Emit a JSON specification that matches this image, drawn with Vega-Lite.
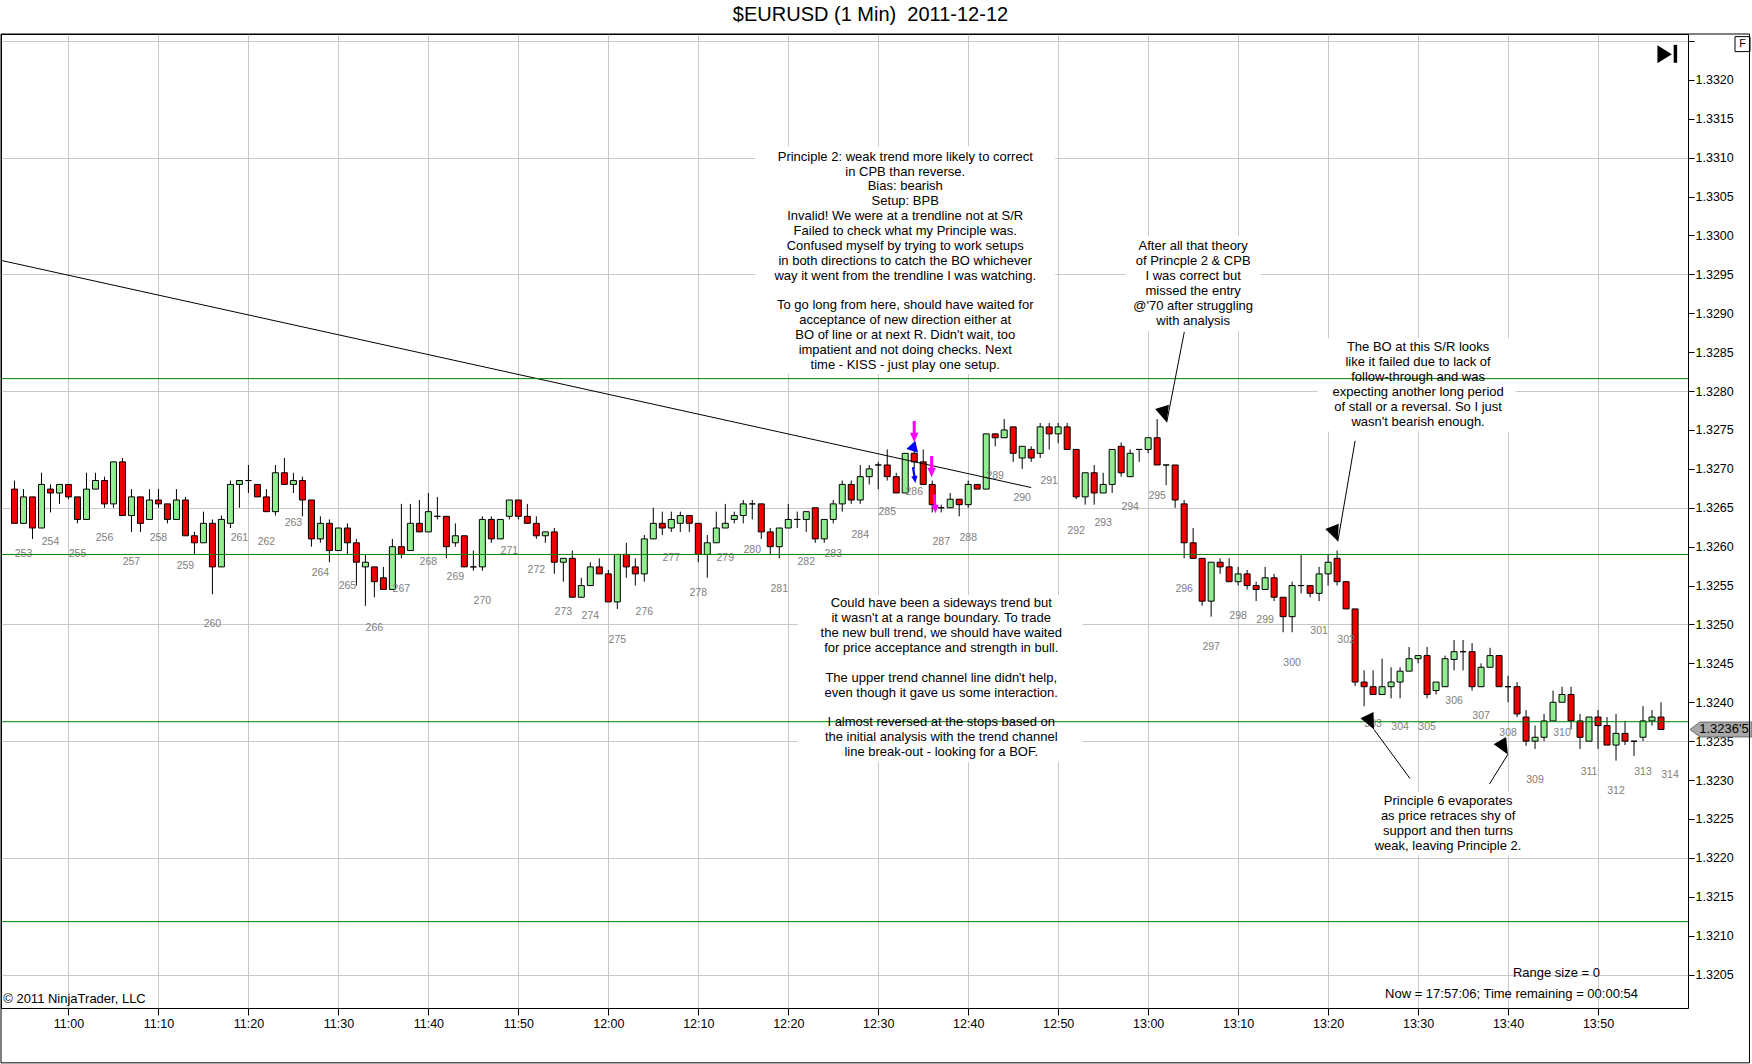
{
  "$schema": "https://vega.github.io/schema/vega-lite/v6.json",
  "description": "$EURUSD 1 minute candles, 2011-12-12, with trading notes",
  "width": 1687,
  "height": 974,
  "autosize": "none",
  "padding": {"left": 1, "top": 34, "right": 64, "bottom": 56},
  "background": "white",
  "title": {
    "text": "$EURUSD (1 Min)\u00a0 2011-12-12",
    "fontSize": 20,
    "fontWeight": "normal",
    "color": "black",
    "anchor": "middle",
    "frame": "group",
    "baseline": "alphabetic",
    "offset": -7,
    "dx": 26
  },
  "config": {
    "font": "Liberation Sans",
    "view": {"stroke": "black", "strokeWidth": 1}
  },
  "datasets": {
    "bars": [
      {"t": "2011-12-12T10:54", "o": 1.32674, "h": 1.32685, "l": 1.32630, "c": 1.32630},
      {"t": "2011-12-12T10:55", "o": 1.32630, "h": 1.32674, "l": 1.32630, "c": 1.32664},
      {"t": "2011-12-12T10:56", "o": 1.32664, "h": 1.32664, "l": 1.32610, "c": 1.32624},
      {"t": "2011-12-12T10:57", "o": 1.32624, "h": 1.32695, "l": 1.32624, "c": 1.32680},
      {"t": "2011-12-12T10:58", "o": 1.32674, "h": 1.32680, "l": 1.32644, "c": 1.32669},
      {"t": "2011-12-12T10:59", "o": 1.32669, "h": 1.32680, "l": 1.32655, "c": 1.32680},
      {"t": "2011-12-12T11:00", "o": 1.32680, "h": 1.32680, "l": 1.32661, "c": 1.32664},
      {"t": "2011-12-12T11:01", "o": 1.32664, "h": 1.32664, "l": 1.32630, "c": 1.32635},
      {"t": "2011-12-12T11:02", "o": 1.32635, "h": 1.32695, "l": 1.32635, "c": 1.32674},
      {"t": "2011-12-12T11:03", "o": 1.32674, "h": 1.32695, "l": 1.32674, "c": 1.32685},
      {"t": "2011-12-12T11:04", "o": 1.32685, "h": 1.32690, "l": 1.32650, "c": 1.32655},
      {"t": "2011-12-12T11:05", "o": 1.32655, "h": 1.32709, "l": 1.32650, "c": 1.32709},
      {"t": "2011-12-12T11:06", "o": 1.32709, "h": 1.32714, "l": 1.32640, "c": 1.32640},
      {"t": "2011-12-12T11:07", "o": 1.32640, "h": 1.32674, "l": 1.32619, "c": 1.32664},
      {"t": "2011-12-12T11:08", "o": 1.32664, "h": 1.32664, "l": 1.32619, "c": 1.32630},
      {"t": "2011-12-12T11:09", "o": 1.32635, "h": 1.32674, "l": 1.32635, "c": 1.32660},
      {"t": "2011-12-12T11:10", "o": 1.32660, "h": 1.32674, "l": 1.32650, "c": 1.32655},
      {"t": "2011-12-12T11:11", "o": 1.32655, "h": 1.32655, "l": 1.32630, "c": 1.32635},
      {"t": "2011-12-12T11:12", "o": 1.32635, "h": 1.32674, "l": 1.32635, "c": 1.32660},
      {"t": "2011-12-12T11:13", "o": 1.32660, "h": 1.32664, "l": 1.32614, "c": 1.32614},
      {"t": "2011-12-12T11:14", "o": 1.32614, "h": 1.32619, "l": 1.32590, "c": 1.32605},
      {"t": "2011-12-12T11:15", "o": 1.32605, "h": 1.32645, "l": 1.32605, "c": 1.32630},
      {"t": "2011-12-12T11:16", "o": 1.32630, "h": 1.32635, "l": 1.32539, "c": 1.32574},
      {"t": "2011-12-12T11:17", "o": 1.32574, "h": 1.32640, "l": 1.32574, "c": 1.32635},
      {"t": "2011-12-12T11:18", "o": 1.32630, "h": 1.32685, "l": 1.32624, "c": 1.32680},
      {"t": "2011-12-12T11:19", "o": 1.32680, "h": 1.32685, "l": 1.32650, "c": 1.32685},
      {"t": "2011-12-12T11:20", "o": 1.32685, "h": 1.32705, "l": 1.32669, "c": 1.32685},
      {"t": "2011-12-12T11:21", "o": 1.32680, "h": 1.32680, "l": 1.32664, "c": 1.32664},
      {"t": "2011-12-12T11:22", "o": 1.32664, "h": 1.32674, "l": 1.32645, "c": 1.32645},
      {"t": "2011-12-12T11:23", "o": 1.32645, "h": 1.32705, "l": 1.32640, "c": 1.32695},
      {"t": "2011-12-12T11:24", "o": 1.32695, "h": 1.32714, "l": 1.32680, "c": 1.32680},
      {"t": "2011-12-12T11:25", "o": 1.32680, "h": 1.32695, "l": 1.32669, "c": 1.32685},
      {"t": "2011-12-12T11:26", "o": 1.32685, "h": 1.32690, "l": 1.32639, "c": 1.32660},
      {"t": "2011-12-12T11:27", "o": 1.32660, "h": 1.32660, "l": 1.32600, "c": 1.32610},
      {"t": "2011-12-12T11:28", "o": 1.32610, "h": 1.32639, "l": 1.32605, "c": 1.32630},
      {"t": "2011-12-12T11:29", "o": 1.32630, "h": 1.32635, "l": 1.32580, "c": 1.32595},
      {"t": "2011-12-12T11:30", "o": 1.32595, "h": 1.32624, "l": 1.32595, "c": 1.32624},
      {"t": "2011-12-12T11:31", "o": 1.32624, "h": 1.32630, "l": 1.32590, "c": 1.32605},
      {"t": "2011-12-12T11:32", "o": 1.32605, "h": 1.32610, "l": 1.32550, "c": 1.32580},
      {"t": "2011-12-12T11:33", "o": 1.32574, "h": 1.32590, "l": 1.32524, "c": 1.32580},
      {"t": "2011-12-12T11:34", "o": 1.32574, "h": 1.32574, "l": 1.32535, "c": 1.32555},
      {"t": "2011-12-12T11:35", "o": 1.32560, "h": 1.32574, "l": 1.32545, "c": 1.32545},
      {"t": "2011-12-12T11:36", "o": 1.32545, "h": 1.32610, "l": 1.32545, "c": 1.32600},
      {"t": "2011-12-12T11:37", "o": 1.32600, "h": 1.32655, "l": 1.32585, "c": 1.32590},
      {"t": "2011-12-12T11:38", "o": 1.32595, "h": 1.32655, "l": 1.32595, "c": 1.32630},
      {"t": "2011-12-12T11:39", "o": 1.32630, "h": 1.32660, "l": 1.32619, "c": 1.32619},
      {"t": "2011-12-12T11:40", "o": 1.32619, "h": 1.32669, "l": 1.32619, "c": 1.32645},
      {"t": "2011-12-12T11:41", "o": 1.32639, "h": 1.32664, "l": 1.32635, "c": 1.32639},
      {"t": "2011-12-12T11:42", "o": 1.32639, "h": 1.32639, "l": 1.32585, "c": 1.32600},
      {"t": "2011-12-12T11:43", "o": 1.32605, "h": 1.32630, "l": 1.32600, "c": 1.32614},
      {"t": "2011-12-12T11:44", "o": 1.32614, "h": 1.32614, "l": 1.32574, "c": 1.32574},
      {"t": "2011-12-12T11:45", "o": 1.32574, "h": 1.32595, "l": 1.32569, "c": 1.32574},
      {"t": "2011-12-12T11:46", "o": 1.32574, "h": 1.32639, "l": 1.32569, "c": 1.32635},
      {"t": "2011-12-12T11:47", "o": 1.32635, "h": 1.32639, "l": 1.32605, "c": 1.32610},
      {"t": "2011-12-12T11:48", "o": 1.32610, "h": 1.32635, "l": 1.32610, "c": 1.32635},
      {"t": "2011-12-12T11:49", "o": 1.32639, "h": 1.32660, "l": 1.32635, "c": 1.32660},
      {"t": "2011-12-12T11:50", "o": 1.32660, "h": 1.32660, "l": 1.32635, "c": 1.32639},
      {"t": "2011-12-12T11:51", "o": 1.32639, "h": 1.32655, "l": 1.32630, "c": 1.32630},
      {"t": "2011-12-12T11:52", "o": 1.32630, "h": 1.32639, "l": 1.32610, "c": 1.32614},
      {"t": "2011-12-12T11:53", "o": 1.32614, "h": 1.32619, "l": 1.32605, "c": 1.32619},
      {"t": "2011-12-12T11:54", "o": 1.32619, "h": 1.32624, "l": 1.32565, "c": 1.32580},
      {"t": "2011-12-12T11:55", "o": 1.32580, "h": 1.32585, "l": 1.32555, "c": 1.32585},
      {"t": "2011-12-12T11:56", "o": 1.32585, "h": 1.32595, "l": 1.32535, "c": 1.32535},
      {"t": "2011-12-12T11:57", "o": 1.32535, "h": 1.32560, "l": 1.32535, "c": 1.32550},
      {"t": "2011-12-12T11:58", "o": 1.32550, "h": 1.32580, "l": 1.32550, "c": 1.32574},
      {"t": "2011-12-12T11:59", "o": 1.32574, "h": 1.32585, "l": 1.32565, "c": 1.32565},
      {"t": "2011-12-12T12:00", "o": 1.32565, "h": 1.32570, "l": 1.32529, "c": 1.32529},
      {"t": "2011-12-12T12:01", "o": 1.32529, "h": 1.32590, "l": 1.32520, "c": 1.32590},
      {"t": "2011-12-12T12:02", "o": 1.32590, "h": 1.32605, "l": 1.32560, "c": 1.32574},
      {"t": "2011-12-12T12:03", "o": 1.32574, "h": 1.32585, "l": 1.32550, "c": 1.32565},
      {"t": "2011-12-12T12:04", "o": 1.32565, "h": 1.32615, "l": 1.32555, "c": 1.32610},
      {"t": "2011-12-12T12:05", "o": 1.32610, "h": 1.32650, "l": 1.32610, "c": 1.32630},
      {"t": "2011-12-12T12:06", "o": 1.32630, "h": 1.32645, "l": 1.32615, "c": 1.32624},
      {"t": "2011-12-12T12:07", "o": 1.32624, "h": 1.32645, "l": 1.32619, "c": 1.32635},
      {"t": "2011-12-12T12:08", "o": 1.32630, "h": 1.32645, "l": 1.32619, "c": 1.32640},
      {"t": "2011-12-12T12:09", "o": 1.32640, "h": 1.32640, "l": 1.32619, "c": 1.32630},
      {"t": "2011-12-12T12:10", "o": 1.32630, "h": 1.32630, "l": 1.32580, "c": 1.32590},
      {"t": "2011-12-12T12:11", "o": 1.32590, "h": 1.32615, "l": 1.32560, "c": 1.32605},
      {"t": "2011-12-12T12:12", "o": 1.32605, "h": 1.32645, "l": 1.32605, "c": 1.32624},
      {"t": "2011-12-12T12:13", "o": 1.32624, "h": 1.32655, "l": 1.32624, "c": 1.32630},
      {"t": "2011-12-12T12:14", "o": 1.32635, "h": 1.32645, "l": 1.32630, "c": 1.32640},
      {"t": "2011-12-12T12:15", "o": 1.32640, "h": 1.32660, "l": 1.32630, "c": 1.32655},
      {"t": "2011-12-12T12:16", "o": 1.32655, "h": 1.32660, "l": 1.32635, "c": 1.32655},
      {"t": "2011-12-12T12:17", "o": 1.32655, "h": 1.32655, "l": 1.32610, "c": 1.32619},
      {"t": "2011-12-12T12:18", "o": 1.32619, "h": 1.32624, "l": 1.32590, "c": 1.32600},
      {"t": "2011-12-12T12:19", "o": 1.32600, "h": 1.32624, "l": 1.32585, "c": 1.32624},
      {"t": "2011-12-12T12:20", "o": 1.32624, "h": 1.32655, "l": 1.32624, "c": 1.32635},
      {"t": "2011-12-12T12:21", "o": 1.32635, "h": 1.32645, "l": 1.32624, "c": 1.32635},
      {"t": "2011-12-12T12:22", "o": 1.32635, "h": 1.32645, "l": 1.32619, "c": 1.32645},
      {"t": "2011-12-12T12:23", "o": 1.32650, "h": 1.32650, "l": 1.32605, "c": 1.32610},
      {"t": "2011-12-12T12:24", "o": 1.32610, "h": 1.32635, "l": 1.32605, "c": 1.32635},
      {"t": "2011-12-12T12:25", "o": 1.32635, "h": 1.32660, "l": 1.32630, "c": 1.32655},
      {"t": "2011-12-12T12:26", "o": 1.32655, "h": 1.32685, "l": 1.32645, "c": 1.32680},
      {"t": "2011-12-12T12:27", "o": 1.32680, "h": 1.32685, "l": 1.32655, "c": 1.32660},
      {"t": "2011-12-12T12:28", "o": 1.32660, "h": 1.32705, "l": 1.32655, "c": 1.32690},
      {"t": "2011-12-12T12:29", "o": 1.32690, "h": 1.32705, "l": 1.32680, "c": 1.32700},
      {"t": "2011-12-12T12:30", "o": 1.32705, "h": 1.32709, "l": 1.32674, "c": 1.32705},
      {"t": "2011-12-12T12:31", "o": 1.32705, "h": 1.32725, "l": 1.32685, "c": 1.32690},
      {"t": "2011-12-12T12:32", "o": 1.32690, "h": 1.32695, "l": 1.32669, "c": 1.32669},
      {"t": "2011-12-12T12:33", "o": 1.32669, "h": 1.32720, "l": 1.32669, "c": 1.32720},
      {"t": "2011-12-12T12:34", "o": 1.32720, "h": 1.32733, "l": 1.32700, "c": 1.32709},
      {"t": "2011-12-12T12:35", "o": 1.32709, "h": 1.32725, "l": 1.32680, "c": 1.32680},
      {"t": "2011-12-12T12:36", "o": 1.32680, "h": 1.32685, "l": 1.32644, "c": 1.32654},
      {"t": "2011-12-12T12:37", "o": 1.32650, "h": 1.32654, "l": 1.32644, "c": 1.32650},
      {"t": "2011-12-12T12:38", "o": 1.32650, "h": 1.32669, "l": 1.32650, "c": 1.32661},
      {"t": "2011-12-12T12:39", "o": 1.32661, "h": 1.32661, "l": 1.32639, "c": 1.32654},
      {"t": "2011-12-12T12:40", "o": 1.32654, "h": 1.32685, "l": 1.32650, "c": 1.32680},
      {"t": "2011-12-12T12:41", "o": 1.32680, "h": 1.32680, "l": 1.32674, "c": 1.32674},
      {"t": "2011-12-12T12:42", "o": 1.32674, "h": 1.32745, "l": 1.32674, "c": 1.32745},
      {"t": "2011-12-12T12:43", "o": 1.32745, "h": 1.32745, "l": 1.32729, "c": 1.32740},
      {"t": "2011-12-12T12:44", "o": 1.32740, "h": 1.32764, "l": 1.32740, "c": 1.32750},
      {"t": "2011-12-12T12:45", "o": 1.32754, "h": 1.32754, "l": 1.32709, "c": 1.32720},
      {"t": "2011-12-12T12:46", "o": 1.32714, "h": 1.32729, "l": 1.32700, "c": 1.32729},
      {"t": "2011-12-12T12:47", "o": 1.32725, "h": 1.32729, "l": 1.32709, "c": 1.32714},
      {"t": "2011-12-12T12:48", "o": 1.32720, "h": 1.32759, "l": 1.32714, "c": 1.32754},
      {"t": "2011-12-12T12:49", "o": 1.32754, "h": 1.32759, "l": 1.32725, "c": 1.32745},
      {"t": "2011-12-12T12:50", "o": 1.32745, "h": 1.32759, "l": 1.32733, "c": 1.32754},
      {"t": "2011-12-12T12:51", "o": 1.32754, "h": 1.32759, "l": 1.32725, "c": 1.32725},
      {"t": "2011-12-12T12:52", "o": 1.32725, "h": 1.32725, "l": 1.32661, "c": 1.32664},
      {"t": "2011-12-12T12:53", "o": 1.32664, "h": 1.32695, "l": 1.32654, "c": 1.32695},
      {"t": "2011-12-12T12:54", "o": 1.32695, "h": 1.32705, "l": 1.32654, "c": 1.32669},
      {"t": "2011-12-12T12:55", "o": 1.32669, "h": 1.32695, "l": 1.32669, "c": 1.32680},
      {"t": "2011-12-12T12:56", "o": 1.32680, "h": 1.32725, "l": 1.32669, "c": 1.32725},
      {"t": "2011-12-12T12:57", "o": 1.32729, "h": 1.32734, "l": 1.32690, "c": 1.32695},
      {"t": "2011-12-12T12:58", "o": 1.32690, "h": 1.32725, "l": 1.32690, "c": 1.32720},
      {"t": "2011-12-12T12:59", "o": 1.32725, "h": 1.32725, "l": 1.32709, "c": 1.32725},
      {"t": "2011-12-12T13:00", "o": 1.32725, "h": 1.32740, "l": 1.32720, "c": 1.32740},
      {"t": "2011-12-12T13:01", "o": 1.32740, "h": 1.32764, "l": 1.32705, "c": 1.32705},
      {"t": "2011-12-12T13:02", "o": 1.32705, "h": 1.32705, "l": 1.32679, "c": 1.32705},
      {"t": "2011-12-12T13:03", "o": 1.32705, "h": 1.32705, "l": 1.32650, "c": 1.32660},
      {"t": "2011-12-12T13:04", "o": 1.32655, "h": 1.32660, "l": 1.32585, "c": 1.32605},
      {"t": "2011-12-12T13:05", "o": 1.32605, "h": 1.32624, "l": 1.32585, "c": 1.32585},
      {"t": "2011-12-12T13:06", "o": 1.32585, "h": 1.32585, "l": 1.32524, "c": 1.32530},
      {"t": "2011-12-12T13:07", "o": 1.32530, "h": 1.32580, "l": 1.32510, "c": 1.32580},
      {"t": "2011-12-12T13:08", "o": 1.32580, "h": 1.32585, "l": 1.32565, "c": 1.32574},
      {"t": "2011-12-12T13:09", "o": 1.32574, "h": 1.32585, "l": 1.32555, "c": 1.32555},
      {"t": "2011-12-12T13:10", "o": 1.32555, "h": 1.32574, "l": 1.32550, "c": 1.32565},
      {"t": "2011-12-12T13:11", "o": 1.32565, "h": 1.32570, "l": 1.32545, "c": 1.32550},
      {"t": "2011-12-12T13:12", "o": 1.32550, "h": 1.32555, "l": 1.32530, "c": 1.32545},
      {"t": "2011-12-12T13:13", "o": 1.32545, "h": 1.32574, "l": 1.32545, "c": 1.32560},
      {"t": "2011-12-12T13:14", "o": 1.32560, "h": 1.32565, "l": 1.32530, "c": 1.32535},
      {"t": "2011-12-12T13:15", "o": 1.32535, "h": 1.32535, "l": 1.32490, "c": 1.32510},
      {"t": "2011-12-12T13:16", "o": 1.32510, "h": 1.32555, "l": 1.32490, "c": 1.32550},
      {"t": "2011-12-12T13:17", "o": 1.32550, "h": 1.32590, "l": 1.32540, "c": 1.32550},
      {"t": "2011-12-12T13:18", "o": 1.32550, "h": 1.32550, "l": 1.32535, "c": 1.32540},
      {"t": "2011-12-12T13:19", "o": 1.32540, "h": 1.32574, "l": 1.32530, "c": 1.32565},
      {"t": "2011-12-12T13:20", "o": 1.32565, "h": 1.32590, "l": 1.32550, "c": 1.32580},
      {"t": "2011-12-12T13:21", "o": 1.32585, "h": 1.32595, "l": 1.32550, "c": 1.32555},
      {"t": "2011-12-12T13:22", "o": 1.32555, "h": 1.32555, "l": 1.32520, "c": 1.32520},
      {"t": "2011-12-12T13:23", "o": 1.32520, "h": 1.32520, "l": 1.32421, "c": 1.32426},
      {"t": "2011-12-12T13:24", "o": 1.32426, "h": 1.32441, "l": 1.32395, "c": 1.32420},
      {"t": "2011-12-12T13:25", "o": 1.32420, "h": 1.32441, "l": 1.32410, "c": 1.32410},
      {"t": "2011-12-12T13:26", "o": 1.32410, "h": 1.32456, "l": 1.32410, "c": 1.32420},
      {"t": "2011-12-12T13:27", "o": 1.32420, "h": 1.32445, "l": 1.32405, "c": 1.32426},
      {"t": "2011-12-12T13:28", "o": 1.32426, "h": 1.32445, "l": 1.32405, "c": 1.32440},
      {"t": "2011-12-12T13:29", "o": 1.32440, "h": 1.32471, "l": 1.32440, "c": 1.32456},
      {"t": "2011-12-12T13:30", "o": 1.32456, "h": 1.32460, "l": 1.32450, "c": 1.32460},
      {"t": "2011-12-12T13:31", "o": 1.32460, "h": 1.32471, "l": 1.32405, "c": 1.32410},
      {"t": "2011-12-12T13:32", "o": 1.32415, "h": 1.32426, "l": 1.32410, "c": 1.32426},
      {"t": "2011-12-12T13:33", "o": 1.32420, "h": 1.32460, "l": 1.32420, "c": 1.32456},
      {"t": "2011-12-12T13:34", "o": 1.32455, "h": 1.32480, "l": 1.32441, "c": 1.32465},
      {"t": "2011-12-12T13:35", "o": 1.32465, "h": 1.32480, "l": 1.32441, "c": 1.32465},
      {"t": "2011-12-12T13:36", "o": 1.32465, "h": 1.32476, "l": 1.32415, "c": 1.32420},
      {"t": "2011-12-12T13:37", "o": 1.32420, "h": 1.32450, "l": 1.32420, "c": 1.32445},
      {"t": "2011-12-12T13:38", "o": 1.32445, "h": 1.32470, "l": 1.32445, "c": 1.32460},
      {"t": "2011-12-12T13:39", "o": 1.32460, "h": 1.32460, "l": 1.32420, "c": 1.32420},
      {"t": "2011-12-12T13:40", "o": 1.32420, "h": 1.32434, "l": 1.32400, "c": 1.32420},
      {"t": "2011-12-12T13:41", "o": 1.32420, "h": 1.32426, "l": 1.32381, "c": 1.32385},
      {"t": "2011-12-12T13:42", "o": 1.32381, "h": 1.32390, "l": 1.32344, "c": 1.32350},
      {"t": "2011-12-12T13:43", "o": 1.32350, "h": 1.32370, "l": 1.32340, "c": 1.32355},
      {"t": "2011-12-12T13:44", "o": 1.32355, "h": 1.32385, "l": 1.32350, "c": 1.32376},
      {"t": "2011-12-12T13:45", "o": 1.32376, "h": 1.32415, "l": 1.32376, "c": 1.32400},
      {"t": "2011-12-12T13:46", "o": 1.32400, "h": 1.32420, "l": 1.32400, "c": 1.32410},
      {"t": "2011-12-12T13:47", "o": 1.32410, "h": 1.32420, "l": 1.32365, "c": 1.32376},
      {"t": "2011-12-12T13:48", "o": 1.32376, "h": 1.32385, "l": 1.32340, "c": 1.32355},
      {"t": "2011-12-12T13:49", "o": 1.32350, "h": 1.32381, "l": 1.32350, "c": 1.32381},
      {"t": "2011-12-12T13:50", "o": 1.32381, "h": 1.32390, "l": 1.32340, "c": 1.32370},
      {"t": "2011-12-12T13:51", "o": 1.32370, "h": 1.32381, "l": 1.32345, "c": 1.32345},
      {"t": "2011-12-12T13:52", "o": 1.32345, "h": 1.32385, "l": 1.32325, "c": 1.32360},
      {"t": "2011-12-12T13:53", "o": 1.32360, "h": 1.32376, "l": 1.32345, "c": 1.32350},
      {"t": "2011-12-12T13:54", "o": 1.32350, "h": 1.32350, "l": 1.32331, "c": 1.32350},
      {"t": "2011-12-12T13:55", "o": 1.32355, "h": 1.32395, "l": 1.32350, "c": 1.32376},
      {"t": "2011-12-12T13:56", "o": 1.32376, "h": 1.32390, "l": 1.32370, "c": 1.32381},
      {"t": "2011-12-12T13:57", "o": 1.32381, "h": 1.32400, "l": 1.32365, "c": 1.32365}
    ],
    "counts": [
      {"t": "2011-12-12T10:55", "p": 1.32591, "n": "253"},
      {"t": "2011-12-12T10:58", "p": 1.32606, "n": "254"},
      {"t": "2011-12-12T11:01", "p": 1.32591, "n": "255"},
      {"t": "2011-12-12T11:04", "p": 1.32611, "n": "256"},
      {"t": "2011-12-12T11:07", "p": 1.32580, "n": "257"},
      {"t": "2011-12-12T11:10", "p": 1.32611, "n": "258"},
      {"t": "2011-12-12T11:13", "p": 1.32575, "n": "259"},
      {"t": "2011-12-12T11:16", "p": 1.32501, "n": "260"},
      {"t": "2011-12-12T11:19", "p": 1.32611, "n": "261"},
      {"t": "2011-12-12T11:22", "p": 1.32606, "n": "262"},
      {"t": "2011-12-12T11:25", "p": 1.32630, "n": "263"},
      {"t": "2011-12-12T11:28", "p": 1.32566, "n": "264"},
      {"t": "2011-12-12T11:31", "p": 1.32550, "n": "265"},
      {"t": "2011-12-12T11:34", "p": 1.32496, "n": "266"},
      {"t": "2011-12-12T11:37", "p": 1.32545, "n": "267"},
      {"t": "2011-12-12T11:40", "p": 1.32580, "n": "268"},
      {"t": "2011-12-12T11:43", "p": 1.32561, "n": "269"},
      {"t": "2011-12-12T11:46", "p": 1.32530, "n": "270"},
      {"t": "2011-12-12T11:49", "p": 1.32595, "n": "271"},
      {"t": "2011-12-12T11:52", "p": 1.32570, "n": "272"},
      {"t": "2011-12-12T11:55", "p": 1.32516, "n": "273"},
      {"t": "2011-12-12T11:58", "p": 1.32511, "n": "274"},
      {"t": "2011-12-12T12:01", "p": 1.32480, "n": "275"},
      {"t": "2011-12-12T12:04", "p": 1.32516, "n": "276"},
      {"t": "2011-12-12T12:07", "p": 1.32586, "n": "277"},
      {"t": "2011-12-12T12:10", "p": 1.32541, "n": "278"},
      {"t": "2011-12-12T12:13", "p": 1.32586, "n": "279"},
      {"t": "2011-12-12T12:16", "p": 1.32596, "n": "280"},
      {"t": "2011-12-12T12:19", "p": 1.32545, "n": "281"},
      {"t": "2011-12-12T12:22", "p": 1.32580, "n": "282"},
      {"t": "2011-12-12T12:25", "p": 1.32591, "n": "283"},
      {"t": "2011-12-12T12:28", "p": 1.32615, "n": "284"},
      {"t": "2011-12-12T12:31", "p": 1.32645, "n": "285"},
      {"t": "2011-12-12T12:34", "p": 1.32670, "n": "286"},
      {"t": "2011-12-12T12:37", "p": 1.32606, "n": "287"},
      {"t": "2011-12-12T12:40", "p": 1.32611, "n": "288"},
      {"t": "2011-12-12T12:43", "p": 1.32691, "n": "289"},
      {"t": "2011-12-12T12:46", "p": 1.32662, "n": "290"},
      {"t": "2011-12-12T12:49", "p": 1.32685, "n": "291"},
      {"t": "2011-12-12T12:52", "p": 1.32620, "n": "292"},
      {"t": "2011-12-12T12:55", "p": 1.32630, "n": "293"},
      {"t": "2011-12-12T12:58", "p": 1.32651, "n": "294"},
      {"t": "2011-12-12T13:01", "p": 1.32665, "n": "295"},
      {"t": "2011-12-12T13:04", "p": 1.32545, "n": "296"},
      {"t": "2011-12-12T13:07", "p": 1.32471, "n": "297"},
      {"t": "2011-12-12T13:10", "p": 1.32511, "n": "298"},
      {"t": "2011-12-12T13:13", "p": 1.32506, "n": "299"},
      {"t": "2011-12-12T13:16", "p": 1.32451, "n": "300"},
      {"t": "2011-12-12T13:19", "p": 1.32491, "n": "301"},
      {"t": "2011-12-12T13:22", "p": 1.32480, "n": "302"},
      {"t": "2011-12-12T13:25", "p": 1.32372, "n": "303"},
      {"t": "2011-12-12T13:28", "p": 1.32368, "n": "304"},
      {"t": "2011-12-12T13:31", "p": 1.32368, "n": "305"},
      {"t": "2011-12-12T13:34", "p": 1.32401, "n": "306"},
      {"t": "2011-12-12T13:37", "p": 1.32382, "n": "307"},
      {"t": "2011-12-12T13:40", "p": 1.32361, "n": "308"},
      {"t": "2011-12-12T13:43", "p": 1.32300, "n": "309"},
      {"t": "2011-12-12T13:46", "p": 1.32361, "n": "310"},
      {"t": "2011-12-12T13:49", "p": 1.32311, "n": "311"},
      {"t": "2011-12-12T13:52", "p": 1.32286, "n": "312"},
      {"t": "2011-12-12T13:55", "p": 1.32311, "n": "313"},
      {"t": "2011-12-12T13:58", "p": 1.32307, "n": "314"}
    ],
    "boxes": [
      {"t0": "2011-12-12T12:16:20", "t1": "2011-12-12T12:49:40", "p0": 1.33115, "p1": 1.32822},
      {"t0": "2011-12-12T12:57:30", "t1": "2011-12-12T13:12:30", "p0": 1.32999, "p1": 1.32877},
      {"t0": "2011-12-12T13:18:50", "t1": "2011-12-12T13:40:50", "p0": 1.32868, "p1": 1.32748},
      {"t0": "2011-12-12T12:21:04", "t1": "2011-12-12T12:52:43", "p0": 1.32538, "p1": 1.32323},
      {"t0": "2011-12-12T13:24:36", "t1": "2011-12-12T13:42:06", "p0": 1.32285, "p1": 1.32203}
    ],
    "notes": [
      {"t": "2011-12-12T12:33", "p": 1.33109, "lines": ["Principle 2: weak trend more likely to correct", "in CPB than reverse.", "Bias: bearish", "Setup: BPB", "Invalid! We were at a trendline not at S/R", "Failed to check what my Principle was.", "Confused myself by trying to work setups", "in both directions to catch the BO whichever", "way it went from the trendline I was watching."]},
      {"t": "2011-12-12T12:33", "p": 1.32918, "lines": ["To go long from here, should have waited for", "acceptance of new direction either at", "BO of line or at next R. Didn't wait, too", "impatient and not doing checks. Next", "time - KISS - just play one setup."]},
      {"t": "2011-12-12T13:05", "p": 1.32994, "lines": ["After all that theory", "of Princple 2 & CPB", "I was correct but", "missed the entry", "@'70 after struggling", "with analysis"]},
      {"t": "2011-12-12T13:30", "p": 1.32864, "lines": ["The BO at this S/R looks", "like it failed due to lack of", "follow-through and was", "expecting another long period", "of stall or a reversal. So I just", "wasn't bearish enough."]},
      {"t": "2011-12-12T12:37", "p": 1.32535, "lines": ["Could have been a sideways trend but", "it wasn't at a range boundary. To trade", "the new bull trend, we should have waited", "for price acceptance and strength in bull."]},
      {"t": "2011-12-12T12:37", "p": 1.32439, "lines": ["The upper trend channel line didn't help,", "even though it gave us some interaction."]},
      {"t": "2011-12-12T12:37", "p": 1.32382, "lines": ["I almost reversed at the stops based on", "the initial analysis with the trend channel", "line break-out - looking for a BOF."]},
      {"t": "2011-12-12T13:33:20", "p": 1.32281, "lines": ["Principle 6 evaporates", "as price retraces shy of", "support and then turns", "weak, leaving Principle 2."]}
    ],
    "arrows": [
      {"id": "A", "t0": "2011-12-12T13:04:01", "p0": 1.32876, "t1": "2011-12-12T13:02:04", "p1": 1.32760},
      {"id": "B", "t0": "2011-12-12T13:23:00", "p0": 1.32736, "t1": "2011-12-12T13:21:05", "p1": 1.32607},
      {"id": "C", "t0": "2011-12-12T13:29:06", "p0": 1.32302, "t1": "2011-12-12T13:25:06", "p1": 1.32365},
      {"id": "D", "t0": "2011-12-12T13:37:56", "p0": 1.32295, "t1": "2011-12-12T13:39:59", "p1": 1.32333}
    ],
    "trades": [
      {"t": "2011-12-12T12:34:00", "p": 1.32748, "k": "sell"},
      {"t": "2011-12-12T12:35:56", "p": 1.32703, "k": "sell"},
      {"t": "2011-12-12T12:36:18", "p": 1.32655, "k": "exit"},
      {"t": "2011-12-12T12:34:00", "p": 1.32692, "k": "buy"},
      {"t": "2011-12-12T12:33:42", "p": 1.32727, "k": "flag"}
    ],
    "levels": [
      {"p": 1.32816},
      {"p": 1.32590},
      {"p": 1.32375},
      {"p": 1.32118}
    ],
    "trendline": [
      {"t": "2011-12-12T10:52:30", "p": 1.32968},
      {"t": "2011-12-12T12:47:00", "p": 1.32676}
    ],
    "footer": [
      {"t": "2011-12-12T11:00:40", "p": 1.32019, "s": "© 2011 NinjaTrader, LLC"},
      {"t": "2011-12-12T13:45:23", "p": 1.32052, "s": "Range size = 0"},
      {"t": "2011-12-12T13:40:23", "p": 1.32025, "s": "Now = 17:57:06; Time remaining = 00:00:54"}
    ],
    "last": [
      {"t": "2011-12-12T14:00", "p": 1.32365, "s": "1.3236'5"}
    ],
    "corner": [
      {"t": "2011-12-12T14:00", "p": 1.33246, "s": "F"}
    ]
  },
  "layer": [
    {
      "data": {"name": "bars"},
      "mark": {"type": "rule", "color": "black", "strokeWidth": 1},
      "encoding": {
        "x": {
          "field": "t",
          "type": "temporal",
          "title": null,
          "scale": {
            "domain": [
              {"year": 2011, "month": 12, "date": 12, "hours": 10, "minutes": 52, "seconds": 30},
              {"year": 2011, "month": 12, "date": 12, "hours": 14, "minutes": 0}
            ],
            "nice": false,
            "padding": 0
          },
          "axis": {
            "orient": "bottom",
            "title": null,
            "format": "%H:%M",
            "values": [
              {"year": 2011, "month": 12, "date": 12, "hours": 11, "minutes": 0},
              {"year": 2011, "month": 12, "date": 12, "hours": 11, "minutes": 10},
              {"year": 2011, "month": 12, "date": 12, "hours": 11, "minutes": 20},
              {"year": 2011, "month": 12, "date": 12, "hours": 11, "minutes": 30},
              {"year": 2011, "month": 12, "date": 12, "hours": 11, "minutes": 40},
              {"year": 2011, "month": 12, "date": 12, "hours": 11, "minutes": 50},
              {"year": 2011, "month": 12, "date": 12, "hours": 12, "minutes": 0},
              {"year": 2011, "month": 12, "date": 12, "hours": 12, "minutes": 10},
              {"year": 2011, "month": 12, "date": 12, "hours": 12, "minutes": 20},
              {"year": 2011, "month": 12, "date": 12, "hours": 12, "minutes": 30},
              {"year": 2011, "month": 12, "date": 12, "hours": 12, "minutes": 40},
              {"year": 2011, "month": 12, "date": 12, "hours": 12, "minutes": 50},
              {"year": 2011, "month": 12, "date": 12, "hours": 13, "minutes": 0},
              {"year": 2011, "month": 12, "date": 12, "hours": 13, "minutes": 10},
              {"year": 2011, "month": 12, "date": 12, "hours": 13, "minutes": 20},
              {"year": 2011, "month": 12, "date": 12, "hours": 13, "minutes": 30},
              {"year": 2011, "month": 12, "date": 12, "hours": 13, "minutes": 40},
              {"year": 2011, "month": 12, "date": 12, "hours": 13, "minutes": 50}
            ],
            "domain": false,
            "grid": true,
            "gridColor": "#c8c8c8",
            "tickColor": "black",
            "tickSize": 7,
            "labelFontSize": 12.5,
            "labelColor": "black",
            "labelPadding": 2,
            "labelOverlap": false
          }
        },
        "y": {
          "field": "l",
          "type": "quantitative",
          "title": null,
          "scale": {"domain": [1.32007, 1.33259], "zero": false, "nice": false},
          "axis": {
            "orient": "right",
            "title": null,
            "values": [1.3205, 1.321, 1.3215, 1.322, 1.3225, 1.323, 1.3235, 1.324, 1.3245, 1.325, 1.3255, 1.326, 1.3265, 1.327, 1.3275, 1.328, 1.3285, 1.329, 1.3295, 1.33, 1.3305, 1.331, 1.3315, 1.332, 1.3325],
            "labelExpr": "datum.value > 1.3322 ? '' : format(datum.value, '.4f')",
            "domain": false,
            "grid": true,
            "gridColor": "#c8c8c8",
            "gridOpacity": {
              "condition": {"test": "abs((datum.value - 1.3205) / 0.0015 - round((datum.value - 1.3205) / 0.0015)) < 0.05", "value": 1},
              "value": 0
            },
            "tickColor": "black",
            "tickSize": 6,
            "labelFontSize": 12.5,
            "labelColor": "black",
            "labelPadding": 1,
            "labelOverlap": false
          }
        },
        "y2": {"field": "h"}
      }
    },
    {
      "data": {"name": "boxes"},
      "mark": {"type": "rect", "fill": "white", "strokeWidth": 0},
      "encoding": {
        "x": {"field": "t0", "type": "temporal", "title": null},
        "x2": {"field": "t1"},
        "y": {"field": "p0", "type": "quantitative", "title": null},
        "y2": {"field": "p1"}
      }
    },
    {
      "data": {"name": "bars"},
      "mark": {"type": "bar", "width": 6, "stroke": "black", "strokeWidth": 1},
      "encoding": {
        "x": {"field": "t", "type": "temporal", "title": null},
        "y": {"field": "o", "type": "quantitative", "title": null},
        "y2": {"field": "c"},
        "fill": {
          "condition": {"test": "datum.c >= datum.o", "value": "#90ee90"},
          "value": "#ee0000"
        }
      }
    },
    {
      "data": {"name": "counts"},
      "mark": {"type": "text", "fontSize": 10.5, "color": "#808080", "align": "center", "baseline": "middle"},
      "encoding": {
        "x": {"field": "t", "type": "temporal", "title": null},
        "y": {"field": "p", "type": "quantitative", "title": null},
        "text": {"field": "n", "type": "nominal"}
      }
    },
    {
      "data": {"name": "trendline"},
      "mark": {"type": "line", "color": "black", "strokeWidth": 1},
      "encoding": {
        "x": {"field": "t", "type": "temporal", "title": null},
        "y": {"field": "p", "type": "quantitative", "title": null}
      }
    },
    {
      "data": {"name": "levels"},
      "mark": {"type": "rule", "color": "#008000", "strokeWidth": 1},
      "encoding": {
        "y": {"field": "p", "type": "quantitative", "title": null}
      }
    },
    {
      "data": {"name": "trades"},
      "mark": {"type": "point", "filled": true, "opacity": 1, "strokeWidth": 0},
      "encoding": {
        "x": {"field": "t", "type": "temporal", "title": null},
        "y": {"field": "p", "type": "quantitative", "title": null},
        "shape": {"field": "k", "type": "nominal", "legend": null, "scale": {"domain": ["sell", "exit", "buy", "flag"], "range": ["arrow", "arrow", "arrow", "triangle-right"]}},
        "color": {"field": "k", "type": "nominal", "legend": null, "scale": {"domain": ["sell", "exit", "buy", "flag"], "range": ["#ff00ff", "#ff00ff", "#0000ff", "#0000ff"]}},
        "angle": {"field": "k", "type": "nominal", "legend": null, "scale": {"domain": ["sell", "exit", "buy", "flag"], "range": [180, 150, 0, 0]}},
        "size": {"field": "k", "type": "nominal", "legend": null, "scale": {"domain": ["sell", "exit", "buy", "flag"], "range": [450, 150, 420, 90]}}
      }
    },
    {
      "data": {"name": "notes"},
      "mark": {"type": "text", "fontSize": 13, "lineHeight": 14.9, "color": "black", "align": "center", "baseline": "top"},
      "encoding": {
        "x": {"field": "t", "type": "temporal", "title": null},
        "y": {"field": "p", "type": "quantitative", "title": null},
        "text": {"field": "lines"}
      }
    },
    {
      "data": {"name": "arrows"},
      "mark": {"type": "rule", "color": "black", "strokeWidth": 1},
      "encoding": {
        "x": {"field": "t0", "type": "temporal", "title": null},
        "y": {"field": "p0", "type": "quantitative", "title": null},
        "x2": {"field": "t1"},
        "y2": {"field": "p1"}
      }
    },
    {
      "data": {"name": "arrows"},
      "mark": {"type": "point", "shape": "M0,0 L-0.45,1 L0.45,1 Z", "size": 1024, "filled": true, "color": "black", "opacity": 1, "strokeWidth": 0},
      "encoding": {
        "x": {"field": "t1", "type": "temporal", "title": null},
        "y": {"field": "p1", "type": "quantitative", "title": null},
        "angle": {"field": "id", "type": "nominal", "legend": null, "scale": {"domain": ["A", "B", "C", "D"], "range": [191, 190, 324, 32]}}
      }
    },
    {
      "data": {"name": "footer"},
      "mark": {"type": "text", "fontSize": 13, "color": "black", "align": "center", "baseline": "middle"},
      "encoding": {
        "x": {"field": "t", "type": "temporal", "title": null},
        "y": {"field": "p", "type": "quantitative", "title": null},
        "text": {"field": "s", "type": "nominal"}
      }
    },
    {
      "data": {"name": "last"},
      "mark": {"type": "point", "shape": "M-1,0 L-0.68,-0.24 L1,-0.24 L1,0.24 L-0.68,0.24 Z", "size": 3844, "filled": true, "fill": "#a8a8a8", "stroke": "#6e6e6e", "strokeWidth": 1, "opacity": 1, "xOffset": 33, "clip": false},
      "encoding": {
        "x": {"field": "t", "type": "temporal", "title": null},
        "y": {"field": "p", "type": "quantitative", "title": null}
      }
    },
    {
      "data": {"name": "last"},
      "mark": {"type": "text", "fontSize": 13, "color": "black", "align": "center", "baseline": "middle", "dx": 36, "clip": false},
      "encoding": {
        "x": {"field": "t", "type": "temporal", "title": null},
        "y": {"field": "p", "type": "quantitative", "title": null},
        "text": {"field": "s", "type": "nominal"}
      }
    },
    {
      "data": {"name": "corner"},
      "mark": {"type": "point", "shape": "square", "size": 225, "filled": true, "fill": "white", "stroke": "black", "strokeWidth": 1, "opacity": 1, "xOffset": 54.5, "clip": false},
      "encoding": {
        "x": {"field": "t", "type": "temporal", "title": null},
        "y": {"field": "p", "type": "quantitative", "title": null}
      }
    },
    {
      "data": {"name": "corner"},
      "mark": {"type": "text", "fontSize": 11, "color": "black", "align": "center", "baseline": "middle", "dx": 54.5, "clip": false},
      "encoding": {
        "x": {"field": "t", "type": "temporal", "title": null},
        "y": {"field": "p", "type": "quantitative", "title": null},
        "text": {"field": "s", "type": "nominal"}
      }
    },
    {
      "data": {"values": [{"t": "2011-12-12T13:57:24", "p": 1.33233}]},
      "mark": {"type": "point", "shape": "M-0.8,-1 L0.8,0 L-0.8,1 Z", "size": 324, "filled": true, "color": "black", "opacity": 1, "strokeWidth": 0},
      "encoding": {
        "x": {"field": "t", "type": "temporal", "title": null},
        "y": {"field": "p", "type": "quantitative", "title": null}
      }
    },
    {
      "data": {"values": [{"t": "2011-12-12T13:58:36", "p0": 1.33245, "p1": 1.33222}]},
      "mark": {"type": "rule", "color": "black", "strokeWidth": 3.5},
      "encoding": {
        "x": {"field": "t", "type": "temporal", "title": null},
        "y": {"field": "p0", "type": "quantitative", "title": null},
        "y2": {"field": "p1"}
      }
    },
    {
      "data": {"values": [{"t0": "2011-12-12T10:52:30", "t1": "2011-12-12T14:06:50", "p0": 1.33259, "p1": 1.319365}]},
      "mark": {"type": "rect", "fill": "transparent", "stroke": "black", "strokeWidth": 1, "clip": false},
      "encoding": {
        "x": {"field": "t0", "type": "temporal", "title": null},
        "x2": {"field": "t1"},
        "y": {"field": "p0", "type": "quantitative", "title": null},
        "y2": {"field": "p1"}
      }
    }
  ]
}
